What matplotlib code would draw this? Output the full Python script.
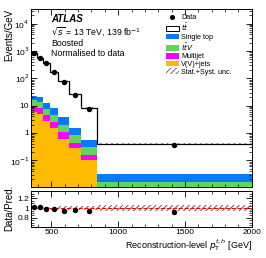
import numpy as np
import matplotlib
matplotlib.use("Agg")
import matplotlib.pyplot as plt
from matplotlib.patches import Patch
from matplotlib.lines import Line2D
from matplotlib.ticker import FixedLocator, FuncFormatter, LogLocator, MultipleLocator

plt.rcParams['font.family'] = ['Liberation Sans', 'DejaVu Sans']
plt.rcParams['hatch.linewidth'] = 0.6

# binning in reconstructed hadronic top pT [GeV]
edges = [350, 392, 435, 490, 552, 634, 720, 838, 2000]

# Events/GeV
data = [830, 570, 360, 169, 73, 25, 7.8, 0.37]
ttbar = [791, 539, 352, 164, 74, 24.5, 7.8, 0.37]
singletop = [7.5, 7.0, 4.5, 3.7, 1.7, 0.67, 0.27, 0.0165]
ttv = [6.2, 5.0, 3.0, 2.1, 0.9, 0.40, 0.14, 0.0095]
multijet = [3.5, 3.2, 1.8, 1.0, 0.48, 0.15, 0.054, 0.002]
vjets = [5.8, 4.8, 2.7, 1.5, 0.62, 0.28, 0.106, 0.004]
unc_frac = [0.03, 0.03, 0.03, 0.03, 0.035, 0.04, 0.045, 0.055]

c_st = '#0a78ff'
c_ttv = '#5ed65a'
c_mj = '#ff00ff'
c_vj = '#ffbb00'

edges = np.array(edges, dtype=float)
centers = 0.5 * (edges[1:] + edges[:-1])
data = np.array(data)
comps = [(vjets, c_vj), (multijet, c_mj), (ttv, c_ttv), (singletop, c_st), (ttbar, 'white')]

fig = plt.figure(figsize=(2.66, 2.58), dpi=100)
ax = fig.add_axes([0.118, 0.277, 0.828, 0.688])
rax = fig.add_axes([0.118, 0.122, 0.828, 0.139])

bottom = np.full(len(data), 1e-4)
for vals, col in comps:
    top = bottom + np.array(vals)
    ax.stairs(top, edges, baseline=bottom, fill=True, color=col, lw=0)
    bottom = top
total = bottom
ax.stairs(total, edges, baseline=None, color='black', lw=0.9)

unc = total * np.array(unc_frac)
ax.stairs(total + unc, edges, baseline=total - unc, fill=True, facecolor='none',
          edgecolor='#555555', hatch='//////', lw=0)
ax.plot(centers, data, 'o', color='black', ms=2.9, zorder=5)

ax.set_yscale('log')
ax.set_xlim(350, 2000)
ax.set_ylim(0.011, 3.4e4)

def logfmt(v, pos):
    n = int(round(np.log10(v)))
    if n == 0:
        return '1'
    if n == 1:
        return '10'
    return r'10$^{%d}$' % n

ax.yaxis.set_major_locator(FixedLocator([0.1, 1, 10, 100, 1e3, 1e4]))
ax.yaxis.set_major_formatter(FuncFormatter(logfmt))
ax.yaxis.set_minor_locator(LogLocator(base=10, subs=np.arange(2, 10), numticks=20))
ax.xaxis.set_major_locator(MultipleLocator(500))
ax.xaxis.set_minor_locator(MultipleLocator(100))
ax.set_xticklabels([])

# ratio panel
ratio = data / total
rax.stairs(1 + np.array(unc_frac), edges, baseline=1 - np.array(unc_frac), fill=True,
           facecolor='none', edgecolor='#444444', hatch='//////', lw=0)
rax.axhline(1, color='red', ls='--', lw=0.8)
rax.plot(centers, ratio, 'o', color='black', ms=2.9, zorder=5)
rax.set_xlim(350, 2000)
rax.set_ylim(0.62, 1.36)
rax.yaxis.set_major_locator(FixedLocator([0.8, 1.0, 1.2]))
rax.yaxis.set_major_formatter(FuncFormatter(lambda v, p: '1' if abs(v - 1) < 1e-6 else '%.1f' % v))
rax.yaxis.set_minor_locator(MultipleLocator(0.05))
rax.xaxis.set_major_locator(MultipleLocator(500))
rax.xaxis.set_minor_locator(MultipleLocator(100))

for a in (ax, rax):
    a.tick_params(which='both', direction='in', top=True, right=True, labelsize=6, pad=1.5)
    a.tick_params(which='major', length=4, width=0.6)
    a.tick_params(which='minor', length=2, width=0.5)
    for s in a.spines.values():
        s.set_linewidth(0.7)

fig.text(0.015, 0.965, 'Events/GeV', rotation=90, ha='left', va='top', fontsize=7)
fig.text(0.015, 0.194, 'Data/Pred.', rotation=90, ha='left', va='center', fontsize=7)
fig.text(0.946, 0.02, r'Reconstruction-level $p_{\mathrm{T}}^{t,h}$ [GeV]', ha='right',
         va='bottom', fontsize=6.5)

ax.text(0.089, 0.944, 'ATLAS', transform=ax.transAxes, fontsize=7, fontweight='bold',
        fontstyle='italic', va='center')
ax.text(0.089, 0.874, r'$\sqrt{s}$ = 13 TeV, 139 fb$^{-1}$', transform=ax.transAxes,
        fontsize=6.3, va='center')
ax.text(0.089, 0.808, 'Boosted', transform=ax.transAxes, fontsize=6.3, va='center')
ax.text(0.089, 0.752, 'Normalised to data', transform=ax.transAxes, fontsize=6.3, va='center')

handles = [
    Line2D([], [], marker='o', color='black', ls='none', ms=2.6),
    Patch(facecolor='white', edgecolor='black', lw=0.7),
    Patch(facecolor=c_st, lw=0),
    Patch(facecolor=c_ttv, lw=0),
    Patch(facecolor=c_mj, lw=0),
    Patch(facecolor=c_vj, lw=0),
    Patch(facecolor='none', edgecolor='#555555', hatch='//////', lw=0),
]
labels = ['Data', r'$t\bar{t}$', 'Single top', r'$t\bar{t}V$', 'Multijet', 'V(V)+jets',
          'Stat.+Syst. unc.']
fig.legend(handles, labels, loc='upper left', bbox_to_anchor=(0.625, 0.945), frameon=False,
           fontsize=5.2, labelspacing=0.05, handlelength=1.7, handleheight=0.8,
           handletextpad=0.4, borderpad=0, borderaxespad=0)

fig.savefig('out.png', dpi=100)
